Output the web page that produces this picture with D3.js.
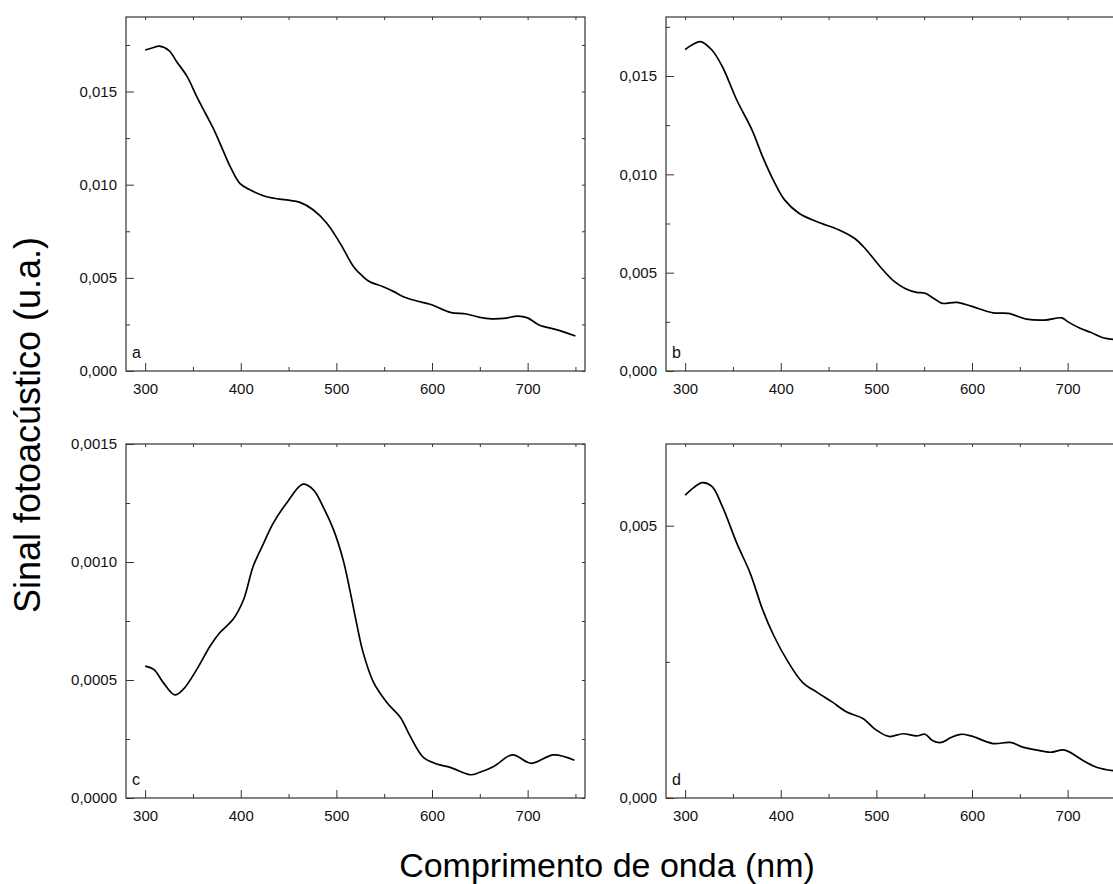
<!DOCTYPE html>
<html>
<head>
<meta charset="utf-8">
<script src="https://cdn.jsdelivr.net/npm/d3@7"></script>
<style>
  body { margin: 0; background: #fff; }
  svg { font-family: "Liberation Sans", Arial, sans-serif; display: block; }
  .tick text { font-family: "Liberation Sans", Arial, sans-serif; font-size: 15px; fill: #111; }
  .domain { display: none; }
  .tick line { stroke: #333; }
</style>
</head>
<body>
<svg id="chart" width="1113" height="884"></svg>
<script>
// photoacoustic spectra, four samples (a-d)
const waveA = [300, 308, 315, 325, 333, 344, 354, 364, 373, 382, 389, 399, 410, 427, 448, 462, 476, 490, 504, 518, 528, 535, 549, 560, 570, 584, 598, 619, 636, 650, 662, 675, 690, 700, 712, 730, 750];
const signalA = [0.01723, 0.01735, 0.01744, 0.0172, 0.0166, 0.0158, 0.01472, 0.01374, 0.01284, 0.01177, 0.01097, 0.01007, 0.00971, 0.00935, 0.00918, 0.00905, 0.00864, 0.00793, 0.00685, 0.0056, 0.00506, 0.00479, 0.00452, 0.00426, 0.00399, 0.00376, 0.00358, 0.00315, 0.00306, 0.00288, 0.0028, 0.00282, 0.00295, 0.00285, 0.00247, 0.00222, 0.00188];

const waveB = [300, 308, 316, 328, 339, 354, 370, 381, 393, 404, 419, 438, 461, 477, 488, 504, 519, 530, 542, 551, 561, 569, 584, 599, 622, 638, 657, 676, 694, 700, 713, 724, 737, 750];
const signalB = [0.01635, 0.0166, 0.01675, 0.01632, 0.01547, 0.01378, 0.01225, 0.0109, 0.00963, 0.0087, 0.00802, 0.00759, 0.00717, 0.00675, 0.00624, 0.0053, 0.00454, 0.0042, 0.004, 0.00395, 0.00366, 0.00344, 0.00349, 0.0033, 0.00296, 0.00293, 0.00264, 0.00259, 0.0027, 0.00251, 0.00217, 0.00197, 0.00169, 0.0016];

const waveC = [300, 309, 319, 331, 340, 354, 368, 378, 392, 403, 413, 424, 434, 448, 465, 476, 486, 497, 507, 514, 521, 528, 539, 553, 567, 577, 591, 605, 619, 640, 650, 665, 684, 704, 727, 749];
const signalC = [0.000559, 0.000545, 0.000489, 0.000437, 0.000461, 0.000545, 0.000644, 0.0007, 0.000757, 0.000841, 0.000982, 0.00108, 0.001165, 0.00125, 0.00133, 0.001306, 0.001235, 0.001137, 0.00101, 0.000883, 0.000743, 0.000616, 0.000489, 0.000404, 0.000341, 0.000263, 0.000172, 0.000144, 0.00013, 0.0000986, 0.000109, 0.000135, 0.000183, 0.000147, 0.000183, 0.00016];

const waveD = [300, 309, 318, 328, 339, 354, 368, 381, 393, 408, 423, 438, 454, 469, 486, 499, 513, 528, 542, 551, 559, 568, 578, 588, 599, 622, 640, 654, 668, 682, 697, 717, 731, 748];
const signalD = [0.00556, 0.0057, 0.00579, 0.00572, 0.00535, 0.00468, 0.00413, 0.00346, 0.00297, 0.00249, 0.00212, 0.00194, 0.00176, 0.00158, 0.00146, 0.00126, 0.00113, 0.00118, 0.00114, 0.00117, 0.00105, 0.00102, 0.00111, 0.00117, 0.00114, 0.001, 0.00102, 0.00093, 0.00088, 0.00084, 0.00088, 0.00068, 0.00056, 0.0005];

const xMajorTicks = [300, 400, 500, 600, 700];
const xMinorTicks = [350, 450, 550, 650, 750];
const yMajorAB = [0, 0.005, 0.010, 0.015];
const yMinorAB = [0.0025, 0.0075, 0.0125, 0.0175];
const yMajorC = [0, 0.0005, 0.0010, 0.0015];
const yMinorC = [0.00025, 0.00075, 0.00125];
const yMajorD = [0, 0.005];
const yMinorD = [0.0025];
const panelLabels = ['a', 'b', 'c', 'd'];

const xTitle = 'Comprimento de onda (nm)';
const yTitle = 'Sinal fotoacústico (u.a.)';

const locale = d3.formatLocale({decimal: ',', thousands: '.', grouping: [3], currency: ['', '']});

const svg = d3.select('#chart');

const panels = [
  {wave: waveA, signal: signalA, left: 126, top: 17, yMax: 0.019, major: yMajorAB, minor: yMinorAB, fmt: locale.format('.3f')},
  {wave: waveB, signal: signalB, left: 666, top: 17, yMax: 0.018, major: yMajorAB, minor: yMinorAB, fmt: locale.format('.3f')},
  {wave: waveC, signal: signalC, left: 126, top: 444, yMax: 0.0015, major: yMajorC, minor: yMinorC, fmt: locale.format('.4f')},
  {wave: waveD, signal: signalD, left: 666, top: 444, yMax: 0.0065, major: yMajorD, minor: yMinorD, fmt: locale.format('.3f')}
];

const width = 459;
const height = 354;

panels.forEach((p, i) => {
  const g = svg.append('g').attr('transform', `translate(${p.left}, ${p.top})`);

  const x = d3.scaleLinear().domain([280, 760]).range([0, width]);
  const y = d3.scaleLinear().domain([0, p.yMax]).range([height, 0]);

  // frame
  g.append('rect')
    .attr('width', width)
    .attr('height', height)
    .attr('fill', 'none')
    .attr('stroke', '#333')
    .attr('stroke-width', 1.2);

  // bottom axis, ticks pointing inward
  g.append('g')
    .attr('transform', `translate(0,${height})`)
    .call(d3.axisBottom(x).tickValues(xMajorTicks).tickSize(-8).tickPadding(12).tickFormat(d3.format('d')));
  g.append('g')
    .attr('transform', `translate(0,${height})`)
    .call(d3.axisBottom(x).tickValues(xMinorTicks).tickSize(-4).tickFormat(''));

  // top axis, short mirror ticks
  g.append('g')
    .call(d3.axisTop(x).tickValues(xMajorTicks.concat(xMinorTicks)).tickSize(-3).tickFormat(''));

  // left axis
  g.append('g')
    .call(d3.axisLeft(y).tickValues(p.major).tickSize(-8).tickPadding(9).tickFormat(p.fmt));
  g.append('g')
    .call(d3.axisLeft(y).tickValues(p.minor).tickSize(-4).tickFormat(''));

  // right axis, short mirror ticks
  g.append('g')
    .attr('transform', `translate(${width},0)`)
    .call(d3.axisRight(y).tickValues(p.major.concat(p.minor)).tickSize(-3).tickFormat(''));

  const line = d3.line()
    .x(d => x(d[0]))
    .y(d => y(d[1]))
    .curve(d3.curveCatmullRom);

  g.append('path')
    .datum(d3.zip(p.wave, p.signal))
    .attr('fill', 'none')
    .attr('stroke', '#000')
    .attr('stroke-width', 1.7)
    .attr('stroke-linejoin', 'round')
    .attr('d', line);

  g.append('text')
    .attr('x', 6)
    .attr('y', height - 13)
    .attr('font-size', 16)
    .attr('fill', '#111')
    .text(panelLabels[i]);
});

svg.append('text')
  .attr('x', 607)
  .attr('y', 877)
  .attr('text-anchor', 'middle')
  .attr('font-size', 34)
  .attr('fill', '#000')
  .text(xTitle);

svg.append('text')
  .attr('transform', 'translate(40, 425) rotate(-90)')
  .attr('text-anchor', 'middle')
  .attr('font-size', 36)
  .attr('fill', '#000')
  .text(yTitle);
</script>
</body>
</html>
